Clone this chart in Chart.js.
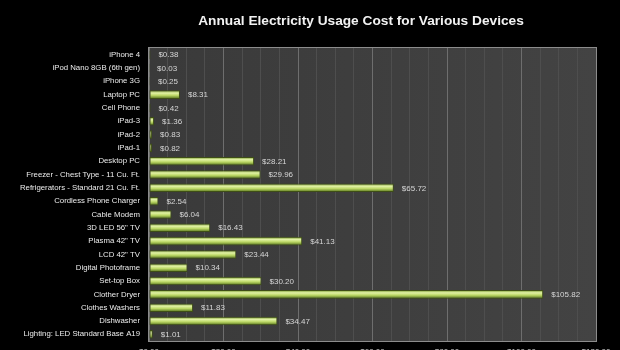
<!DOCTYPE html>
<html>
<head>
<meta charset="utf-8">
<script src="https://cdn.jsdelivr.net/npm/chart.js@4"></script>
<style>
  html, body { margin: 0; padding: 0; background: #000; overflow: hidden; }
  canvas { display: block; }
</style>
</head>
<body>
<canvas id="costChart" width="620" height="365"></canvas>
<script>
// Devices, top to bottom, and their yearly running cost in dollars
const devices = [
  'iPhone 4', 'iPod Nano 8GB (6th gen)', 'iPhone 3G', 'Laptop PC', 'Cell Phone',
  'iPad-3', 'iPad-2', 'iPad-1', 'Desktop PC', 'Freezer - Chest Type - 11 Cu. Ft.',
  'Refrigerators - Standard 21 Cu. Ft.', 'Cordless Phone Charger', 'Cable Modem',
  '3D LED 56" TV', 'Plasma 42" TV', 'LCD 42" TV', 'Digital Photoframe', 'Set-top Box',
  'Clother Dryer', 'Clothes Washers', 'Dishwasher', 'Lighting: LED Standard Base A19'
];
const costs = [
  0.38, 0.03, 0.25, 8.31, 0.42,
  1.36, 0.83, 0.82, 28.21, 29.96,
  65.72, 2.54, 6.04,
  16.43, 41.13, 23.44, 10.34, 30.20,
  105.82, 11.83, 34.47, 1.01
];
const axisMax   = 120;
const minorStep = 5;
const majorStep = 20;

const TITLE = 'Annual Electricity Usage Cost for Various Devices';
const FONT  = '"Liberation Sans", Arial, sans-serif';

const money = v => '$' + v.toFixed(2);

// Dark plot panel + light frame, title, value labels
const decor = {
  id: 'decor',
  beforeDraw(chart) {
    const { ctx, chartArea: a } = chart;
    ctx.save();
    const g = ctx.createLinearGradient(a.left, 0, a.right, 0);
    g.addColorStop(0, '#3a3a3a');
    g.addColorStop(1, '#434343');
    ctx.fillStyle = g;
    ctx.fillRect(a.left, a.top, a.right - a.left, a.bottom - a.top);
    ctx.restore();
  },
  afterDatasetsDraw(chart) {
    const { ctx, chartArea: a } = chart;
    ctx.save();
    ctx.strokeStyle = '#8c8c8c';
    ctx.lineWidth = 1;
    ctx.strokeRect(a.left - 0.5, a.top - 0.5, a.right - a.left + 1, a.bottom - a.top + 1);

    ctx.font = '8px ' + FONT;
    ctx.fillStyle = '#d6d6d6';
    ctx.textBaseline = 'middle';
    chart.getDatasetMeta(0).data.forEach((bar, i) => {
      ctx.fillText(money(costs[i]), bar.x + 8, bar.y + 0.5);
    });

    ctx.font = 'bold 13.7px ' + FONT;
    ctx.fillStyle = '#f2f2f2';
    ctx.textAlign = 'center';
    ctx.fillText(TITLE, 361, 21);
    ctx.restore();
  }
};

// vertical "tube" gradient for each bar
function barFill(c) {
  const chart = c.chart;
  if (!chart.chartArea || c.dataIndex === undefined) return '#b5d05e';
  const y = chart.scales.y.getPixelForValue(c.dataIndex);
  const g = chart.ctx.createLinearGradient(0, y - 4, 0, y + 4);
  g.addColorStop(0, '#7c9c34');
  g.addColorStop(0.3, '#e2f2a6');
  g.addColorStop(0.6, '#bcd866');
  g.addColorStop(1, '#55721c');
  return g;
}

new Chart(document.getElementById('costChart'), {
  type: 'bar',
  data: {
    labels: devices,
    datasets: [{
      data: costs,
      backgroundColor: barFill,
      borderColor: '#3e4e16',
      borderWidth: 1,
      borderSkipped: false,
      barPercentage: 0.64,
      categoryPercentage: 1,
    }],
  },
  options: {
    indexAxis: 'y',
    responsive: false,
    animation: false,
    layout: { padding: { top: 48, right: 24, left: 0, bottom: 0 } },
    plugins: {
      legend: { display: false },
      tooltip: { enabled: false },
    },
    scales: {
      x: {
        min: 0,
        max: axisMax,
        afterFit: s => { s.height = 24; },
        border: { display: false },
        grid: {
          drawTicks: false,
          color: c => (c.tick && c.tick.value % majorStep === 0) ? '#6e6e6e' : '#4e4e4e',
        },
        ticks: {
          stepSize: minorStep,
          autoSkip: false,
          maxRotation: 0,
          padding: 5.5,
          color: '#d0d0d0',
          font: { family: FONT, size: 8 },
          callback: v => v % majorStep === 0 ? money(v) : '',
        },
      },
      y: {
        afterFit: s => { s.width = 149; },
        border: { display: false },
        grid: { display: false, drawTicks: false },
        ticks: {
          autoSkip: false,
          padding: 9,
          color: '#ececec',
          font: { family: FONT, size: 7.8 },
        },
      },
    },
  },
  plugins: [decor],
});
</script>
</body>
</html>
